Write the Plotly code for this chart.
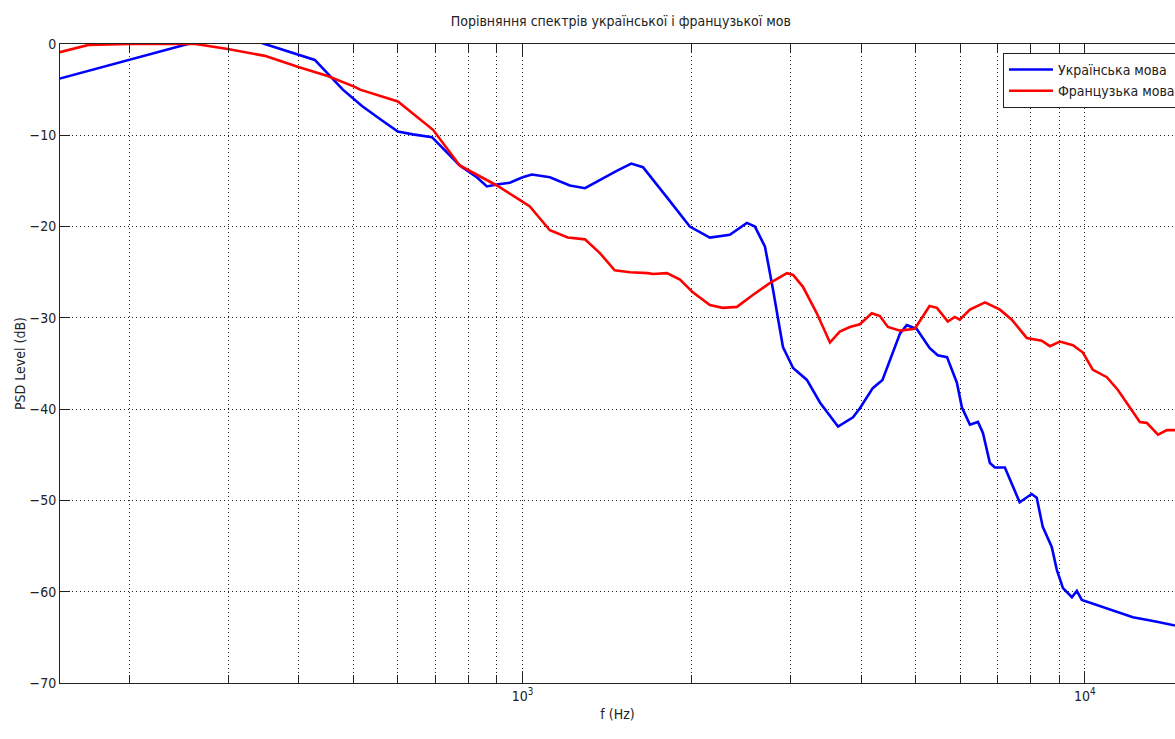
import plotly.graph_objects as go

# Power spectral density estimates (normalised, dB) of two speech recordings
freq_ua = [150, 200, 254, 290, 320, 348, 427, 479, 518, 560, 600, 638, 690, 721, 773,
           829, 864, 900, 949, 1000, 1039, 1118, 1213, 1291, 1390, 1470, 1560, 1637,
           1806, 1983, 2153, 2336, 2505, 2589, 2698, 2788, 2904, 3027, 3203, 3381,
           3639, 3869, 3979, 4195, 4365, 4548, 4691, 4822, 5020, 5293, 5472, 5685,
           5920, 6042, 6244, 6453, 6586, 6777, 6917, 7205, 7655, 8041, 8209, 8414,
           8730, 8913, 9141, 9481, 9675, 9874, 10940, 12170, 13430, 14460]
psd_ua = [-3.8, -1.7, 0.0, 0.8, 0.8, 0.0, -1.75, -5.0, -6.8, -8.3, -9.6, -9.9, -10.2,
          -11.4, -13.3, -14.6, -15.6, -15.4, -15.2, -14.6, -14.3, -14.6, -15.5, -15.8,
          -14.7, -13.9, -13.1, -13.5, -16.8, -20.0, -21.2, -20.9, -19.6, -20.0, -22.2,
          -26.9, -33.2, -35.5, -36.8, -39.3, -41.9, -40.9, -39.9, -37.7, -36.8, -33.8,
          -31.7, -30.8, -31.2, -33.3, -34.1, -34.3, -37.1, -39.8, -41.7, -41.4, -42.6,
          -45.9, -46.4, -46.4, -50.2, -49.3, -49.7, -52.9, -55.1, -57.6, -59.6, -60.6,
          -59.9, -60.9, -61.8, -62.8, -63.3, -63.7]

freq_fr = [150, 169, 200, 262, 299, 348, 398, 450, 503, 514, 600, 693, 773, 900, 1001,
           1030, 1118, 1203, 1291, 1372, 1458, 1553, 1670, 1706, 1806, 1905, 2008,
           2153, 2270, 2405, 2567, 2751, 2952, 3027, 3152, 3336, 3520, 3665, 3819,
           3979, 4178, 4319, 4463, 4691, 4983, 5150, 5293, 5456, 5704, 5870, 5990,
           6244, 6642, 7062, 7413, 7880, 8378, 8664, 9027, 9520, 9917, 10330, 10940,
           11446, 11925, 12522, 12880, 13490, 13990, 14460]
psd_fr = [-0.9, -0.1, 0.0, 0.0, -0.55, -1.3, -2.5, -3.5, -4.7, -5.0, -6.3, -9.4, -13.3,
          -15.5, -17.3, -17.8, -20.4, -21.2, -21.4, -22.9, -24.8, -25.0, -25.1, -25.2,
          -25.1, -25.8, -27.2, -28.6, -28.9, -28.8, -27.5, -26.2, -25.1, -25.3, -26.6,
          -29.5, -32.7, -31.5, -31.0, -30.7, -29.5, -29.8, -31.0, -31.4, -31.2, -29.9,
          -28.7, -28.9, -30.4, -29.9, -30.2, -29.1, -28.3, -29.1, -30.2, -32.2, -32.5,
          -33.1, -32.6, -33.0, -33.8, -35.7, -36.5, -37.9, -39.5, -41.4, -41.5, -42.8,
          -42.3, -42.3]

y_ticks = [-70, -60, -50, -40, -30, -20, -10, 0]
x_major = [1000, 10000]
x_major_text = ["10<sup>3</sup>", "10<sup>4</sup>"]
x_minor = [200, 300, 400, 500, 600, 700, 800, 900,
           2000, 3000, 4000, 5000, 6000, 7000, 8000, 9000]

FONT = "DejaVu Sans Condensed, Liberation Sans Narrow, Arial, sans-serif"
FSIZE = 14
INK = "#222222"
GRID = "#222222"

fig = go.Figure()
fig.add_trace(go.Scatter(x=freq_ua, y=psd_ua, mode="lines", name="Українська мова",
                         line=dict(color="#0000FF", width=2.6)))
fig.add_trace(go.Scatter(x=freq_fr, y=psd_fr, mode="lines", name="Французька мова",
                         line=dict(color="#FF0000", width=2.6)))

fig.update_layout(
    width=1175, height=739,
    margin=dict(l=60, r=0, t=44, b=56, autoexpand=False),
    paper_bgcolor="white", plot_bgcolor="white",
    font=dict(family=FONT, size=FSIZE, color=INK),
    title=dict(text="Порівняння спектрів української і французької мов",
               x=0.503, xref="paper", xanchor="center",
               y=0.972, yref="container", yanchor="middle",
               font=dict(family=FONT, size=FSIZE, color=INK)),
    legend=dict(x=0.8457, y=0.986, xanchor="left", yanchor="top",
                bgcolor="white", bordercolor=INK, borderwidth=1,
                font=dict(family=FONT, size=FSIZE, color=INK),
                itemwidth=44, tracegroupgap=0),
    showlegend=True,
)

fig.update_xaxes(
    type="log",
    range=[2.1773, 4.1602],
    tickmode="array", tickvals=x_major, ticktext=x_major_text,
    ticks="inside", ticklen=12, tickcolor=INK, tickwidth=1,
    showline=True, linecolor=INK, linewidth=1, mirror="ticks",
    showgrid=True, gridcolor=GRID, griddash="1px,3px", gridwidth=1,
    minor=dict(tickmode="array", tickvals=x_minor, ticks="inside", ticklen=8,
               tickcolor=INK, showgrid=True, gridcolor=GRID,
               griddash="1px,3px", gridwidth=1),
    zeroline=False,
    title=dict(text="f (Hz)", standoff=6, font=dict(family=FONT, size=FSIZE)),
    tickfont=dict(family=FONT, size=FSIZE),
)

fig.update_yaxes(
    range=[-70, 0],
    tickmode="array", tickvals=y_ticks,
    ticks="inside", ticklen=10, tickcolor=INK, tickwidth=1,
    showline=True, linecolor=INK, linewidth=1, mirror=False,
    showgrid=True, gridcolor=GRID, griddash="1px,3px", gridwidth=1,
    zeroline=False,
    title=dict(text="PSD Level (dB)", standoff=0, font=dict(family=FONT, size=FSIZE)),
    tickfont=dict(family=FONT, size=FSIZE),
)

fig.write_html("out.html")
